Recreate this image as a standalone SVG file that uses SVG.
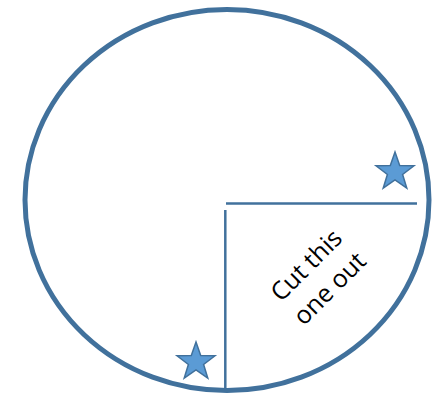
<svg xmlns="http://www.w3.org/2000/svg" width="434" height="395" viewBox="0 0 434 395">
<style>
.outline{fill:none;stroke:#41719c;stroke-width:5}
.cut{stroke:#41719c;stroke-width:2.5;fill:none}
.star{fill:#5b9bd5;stroke:#41719c;stroke-width:1.5}
.lbl{font-family:"Open Sans","Liberation Sans",sans-serif;font-size:25px;fill:#000;text-anchor:middle}
</style>
<defs>
<polygon id="star" points="0,-20 4.7,-6.5 19,-6.2 7.6,2.5 11.8,16.2 0,8 -11.8,16.2 -7.6,2.5 -19,-6.2 -4.7,-6.5"/>
</defs>
<g id="circle"><ellipse class="outline" cx="227" cy="200" rx="202" ry="190.5"/></g>
<g id="connectors">
<line class="cut" x1="226" y1="203.5" x2="417" y2="203.5"/>
<line class="cut" x1="225.3" y1="210" x2="225.3" y2="389"/>
</g>
<g id="star1"><use href="#star" class="star" x="395" y="172"/></g>
<g id="star2"><use href="#star" class="star" x="196" y="362"/></g>
<g id="label"><text class="lbl" transform="translate(318,277) rotate(-45)"><tspan x="0" y="-8">Cut this</tspan><tspan x="0" y="25">one out</tspan></text></g>
</svg>
